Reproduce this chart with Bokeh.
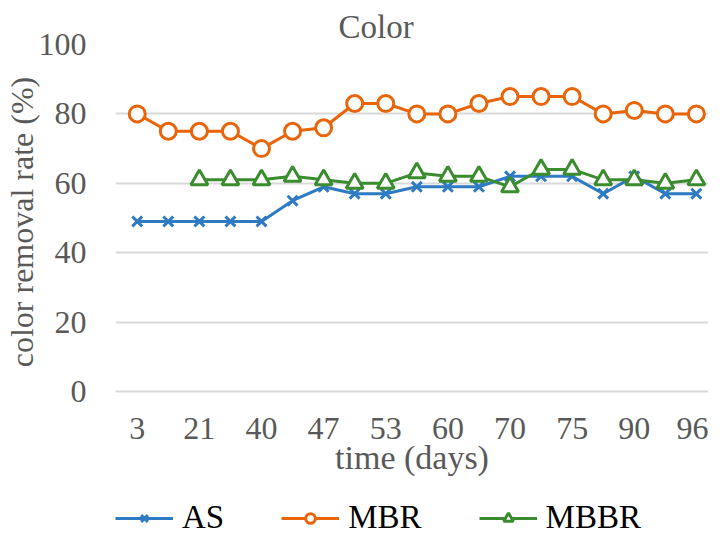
from bokeh.plotting import figure
from bokeh.models import Range1d, FixedTicker, Legend, LegendItem
from bokeh.layouts import column
from bokeh.embed import file_html
from bokeh.resources import INLINE

# data
day_labels = ["3", "21", "40", "47", "53", "60", "70", "75", "90", "96"]
n_points = 19
x_idx = list(range(n_points))
as_vals = [49, 49, 49, 49, 49, 55, 59, 57, 57, 59, 59, 59, 62, 62, 62, 57, 62, 57, 57]
mbr_vals = [80, 75, 75, 75, 70, 75, 76, 83, 83, 80, 80, 83, 85, 85, 85, 80, 81, 80, 80]
mbbr_x = list(range(2, n_points))
mbbr_vals = [61, 61, 61, 62, 61, 60, 60, 63, 62, 62, 59, 64, 64, 61, 61, 60, 61]
series_names = ["AS", "MBR", "MBBR"]

FONT = "Liberation Serif"
GRAY = "#595959"
C_AS, C_MBR, C_MBBR = "#2e7bc4", "#e8650a", "#3a8c2f"

p = figure(width=708, height=486, output_backend="svg", toolbar_location=None,
           x_range=Range1d(-0.70, 18.39), y_range=Range1d(0, 100),
           min_border_left=114, min_border_right=0, min_border_top=44,
           min_border_bottom=95, title="Color")
p.outline_line_color = None
p.title.align = "left"
p.title.offset = 223
p.title.text_font = FONT
p.title.text_font_size = "33px"
p.title.text_font_style = "normal"
p.title.text_color = GRAY
p.title.standoff = 0

p.xgrid.visible = False
p.ygrid.grid_line_color = "#d9d9d9"
p.ygrid.grid_line_width = 2
p.yaxis.ticker = FixedTicker(ticks=[0, 20, 40, 60, 80, 100])
p.xaxis.ticker = FixedTicker(ticks=list(range(0, n_points, 2)))
p.xaxis.major_label_overrides = {i * 2: lab for i, lab in enumerate(day_labels)}

for ax in (p.xaxis[0], p.yaxis[0]):
    ax.major_tick_line_color = None
    ax.minor_tick_line_color = None
    ax.major_label_text_font = FONT
    ax.major_label_text_font_size = "32px"
    ax.major_label_text_color = GRAY
    ax.axis_label_text_font = FONT
    ax.axis_label_text_font_style = "normal"
    ax.axis_label_text_color = GRAY
p.yaxis.axis_line_color = None
p.xaxis.axis_line_color = "#d9d9d9"
p.xaxis.axis_line_width = 2
p.yaxis.axis_label = "color removal rate  (%)"
p.yaxis.axis_label_text_font_size = "32px"
p.xaxis.axis_label = "time (days)"
p.xaxis.axis_label_text_font_size = "34px"
p.xaxis.major_label_standoff = 20
p.xaxis.axis_label_standoff = -3
p.yaxis.major_label_standoff = 23
p.yaxis.axis_label_standoff = -4


def draw(fig, xs, ys, color, marker, size):
    ln = fig.line(xs, ys, color=color, line_width=3)
    sc = fig.scatter(xs, ys, marker=marker, size=size, line_color=color,
                     fill_color="white", line_width=3)
    return [ln, sc]


styles = [(C_AS, "x", 14), (C_MBR, "circle", 16), (C_MBBR, "triangle", 17)]
series = [(x_idx, as_vals), (x_idx, mbr_vals), (mbbr_x, mbbr_vals)]
for (xs, ys), st in zip(series, styles):
    draw(p, xs, ys, *st)

# legend strip below the chart: same series, drawn out of its visible range
pl = figure(width=708, height=50, output_backend="svg", toolbar_location=None,
            x_range=Range1d(0, 1), y_range=Range1d(1000, 1001),
            x_axis_type=None, y_axis_type=None,
            min_border_left=0, min_border_right=0, min_border_top=0,
            min_border_bottom=0)
pl.outline_line_color = None
pl.xgrid.visible = False
pl.ygrid.visible = False
items = []
for name, (xs, ys), st in zip(series_names, series, styles):
    items.append(LegendItem(label=name, renderers=draw(pl, xs, ys, *st)))
legend = Legend(items=items, orientation="horizontal", location=(0, 0),
                label_text_font=FONT, label_text_font_size="33px",
                label_text_color="black", glyph_width=58, glyph_height=24,
                spacing=57, label_standoff=9, border_line_color=None,
                background_fill_alpha=0, margin=0, padding=0)
pl.add_layout(legend, "center")

layout = column(p, pl, spacing=0)
open("out.html", "w").write(file_html(layout, INLINE))
